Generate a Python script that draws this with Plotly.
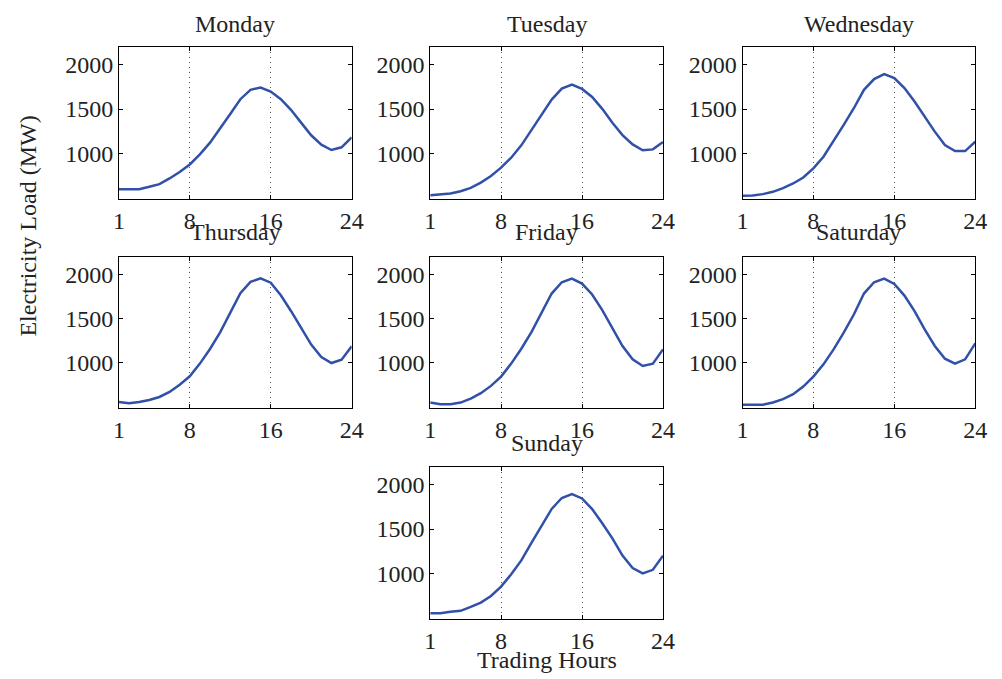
import plotly.graph_objects as go

hours = list(range(1, 25))
days = ["Monday", "Tuesday", "Wednesday", "Thursday", "Friday", "Saturday", "Sunday"]

monday = [596, 596, 596, 623, 653, 717, 789, 875, 989, 1121, 1279, 1445,
          1611, 1717, 1743, 1698, 1611, 1491, 1347, 1204, 1098, 1038, 1068, 1181]
tuesday = [528, 539, 547, 573, 610, 670, 745, 839, 951, 1090, 1262, 1434,
           1607, 1730, 1775, 1727, 1637, 1502, 1345, 1206, 1101, 1034, 1045, 1127]
wednesday = [521, 525, 540, 566, 608, 660, 728, 830, 962, 1136, 1321, 1509,
             1717, 1838, 1894, 1849, 1736, 1585, 1415, 1245, 1094, 1026, 1026, 1132]
thursday = [553, 538, 553, 576, 610, 667, 750, 845, 989, 1155, 1345, 1568,
            1788, 1917, 1958, 1908, 1765, 1587, 1390, 1205, 1064, 996, 1034, 1186]
friday = [547, 528, 528, 547, 592, 653, 736, 842, 989, 1158, 1347, 1566,
          1785, 1913, 1955, 1898, 1774, 1596, 1389, 1189, 1038, 962, 989, 1151]
saturday = [521, 521, 521, 547, 585, 642, 728, 842, 981, 1151, 1340, 1547,
            1785, 1913, 1955, 1894, 1762, 1585, 1377, 1189, 1045, 989, 1038, 1219]
sunday = [551, 551, 566, 577, 622, 670, 745, 850, 989, 1146, 1345, 1532,
          1727, 1850, 1895, 1845, 1725, 1565, 1395, 1200, 1060, 1000, 1040, 1200]

series = [monday, tuesday, wednesday, thursday, friday, saturday, sunday]

x_ticks = [1, 8, 16, 24]
y_ticks = [1000, 1500, 2000]
y_range = [485, 2200]

W, H = 1002, 679
# pixel boxes (left, right, top, bottom)
cols = [(115, 352), (432, 669), (750, 987)]
rows = [(47, 199), (257, 408), (467, 619)]
cells = [(0, 0), (0, 1), (0, 2), (1, 0), (1, 1), (1, 2), (2, 1)]
title_y = [24, 232, 443]

FONT = "Liberation Serif"
FS = 24
line_color = "#3150a8"

fig = go.Figure()
annotations = []
layout = {}
for i, (name, vals) in enumerate(zip(days, series)):
    r, c = cells[i]
    l, rt = cols[c]
    t, b = rows[r]
    n = i + 1
    xa = f"xaxis{n}" if n > 1 else "xaxis"
    ya = f"yaxis{n}" if n > 1 else "yaxis"
    layout[xa] = dict(
        domain=[l / W, rt / W], anchor=f"y{n}", range=[1, 24],
        tickvals=x_ticks, ticktext=[str(v) for v in x_ticks],
        showgrid=True, gridcolor="#555555", griddash="1px,4px", gridwidth=1,
        zeroline=False, showline=True, linecolor="black", linewidth=1,
        mirror="ticks", ticks="inside", ticklen=4, tickcolor="black",
        tickfont=dict(family=FONT, size=FS, color="#222"),
    )
    layout[ya] = dict(
        domain=[1 - b / H, 1 - t / H], anchor=f"x{n}", range=y_range,
        tickvals=y_ticks, ticktext=[str(v) for v in y_ticks],
        showgrid=False, zeroline=False, showline=True, linecolor="black",
        linewidth=1, mirror="ticks", ticks="inside", ticklen=4, tickcolor="black",
        tickfont=dict(family=FONT, size=FS, color="#222"),
    )
    fig.add_trace(go.Scatter(
        x=hours, y=vals, mode="lines", xaxis=f"x{n}", yaxis=f"y{n}",
        line=dict(color=line_color, width=2.5), showlegend=False,
        hoverinfo="skip",
    ))
    annotations.append(dict(
        text=name, x=(l + rt) / 2 / W, y=1 - title_y[r] / H, xref="paper", yref="paper",
        xanchor="center", yanchor="middle", showarrow=False,
        font=dict(family=FONT, size=FS, color="#222"),
    ))

annotations.append(dict(
    text="Electricity Load (MW)", x=22 / W, y=1 - 226 / H, xref="paper", yref="paper",
    xanchor="center", yanchor="middle", textangle=-90, showarrow=False,
    font=dict(family=FONT, size=FS, color="#222"),
))
annotations.append(dict(
    text="Trading Hours", x=551 / W, y=1 - 660 / H, xref="paper", yref="paper",
    xanchor="center", yanchor="middle", showarrow=False,
    font=dict(family=FONT, size=FS, color="#222"),
))

fig.update_layout(
    width=W, height=H, margin=dict(l=0, r=0, t=0, b=0),
    paper_bgcolor="white", plot_bgcolor="white",
    annotations=annotations, **layout,
)
fig.write_html("out.html")
